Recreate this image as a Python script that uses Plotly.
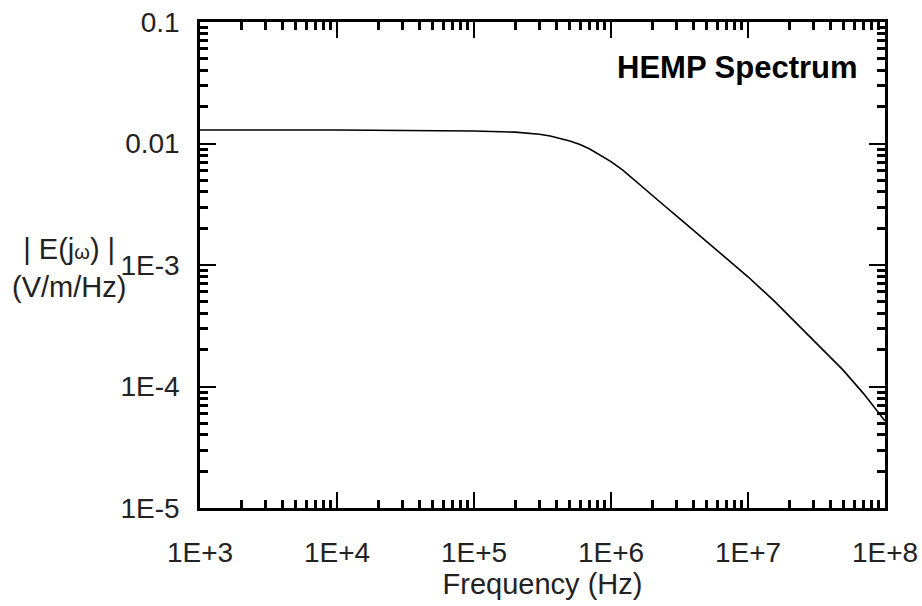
import plotly.graph_objs as go

# HEMP spectrum, values
freq_hz = [1e3, 1e4, 1e5, 2.0e5, 3.0e5, 3.6e5, 5.0e5, 5.94e5, 7.0e5, 1.0e6, 1.22e6, 1.63e6,
           2.28e6, 3.3e6, 5.02e6, 1.0e7, 1.57e7, 2.03e7, 3.0e7, 4.93e7, 7.0e7, 1e8]
e_mag = [0.0129, 0.0129, 0.01268, 0.0124, 0.0119, 0.01153, 0.0105, 0.0098, 0.0090, 0.0071, 0.00605, 0.00455,
         0.00330, 0.00232, 0.00155, 0.00080, 0.00050, 0.000373, 0.00024, 0.000137, 0.000087, 0.000052]

x_major = [1e3, 1e4, 1e5, 1e6, 1e7, 1e8]
x_labels = ['1E+3', '1E+4', '1E+5', '1E+6', '1E+7', '1E+8']
y_major = [1e-5, 1e-4, 1e-3, 1e-2, 1e-1]
y_labels = ['1E-5', '1E-4', '1E-3', '0.01', '0.1']

x_minor = [k * 10 ** n for n in range(3, 8) for k in range(2, 10)]
y_minor = [k * 10.0 ** n for n in range(-5, -1) for k in range(2, 10)]

tick_font = dict(family='Liberation Sans, Arial, sans-serif', size=28, color='#222')
title_font = dict(family='Liberation Sans, Arial, sans-serif', size=29, color='#222')

trace = go.Scatter(x=freq_hz, y=e_mag, mode='lines', line=dict(color='black', width=1.6))

axis_common = dict(
    type='log', showgrid=False, zeroline=False, automargin=False,
    showline=True, linecolor='black', linewidth=2.5, mirror='allticks',
    ticks='inside', ticklen=16, tickwidth=2, tickcolor='black',
    tickmode='array', tickfont=tick_font, ticklabeloverflow='allow',
)

layout = go.Layout(
    width=922, height=606,
    paper_bgcolor='white', plot_bgcolor='white',
    margin=dict(l=200, r=37, t=22, b=98),
    showlegend=False,
    xaxis=dict(
        axis_common,
        range=[3, 8], tickvals=x_major, ticktext=x_labels, ticklabelstandoff=18,
        minor=dict(ticks='inside', ticklen=8, tickwidth=2.5, tickcolor='black', tickvals=x_minor),
        title=dict(text='Frequency (Hz)', font=title_font, standoff=6),
    ),
    yaxis=dict(
        axis_common,
        range=[-5, -1], tickvals=y_major, ticktext=y_labels, ticklabelstandoff=12,
        minor=dict(ticks='inside', ticklen=8, tickwidth=2.5, tickcolor='black', tickvals=y_minor),
    ),
    annotations=[
        dict(text="| E(j<span style='font-size:20px'>ω</span>) |<br>(V/m/Hz)",
             xref='paper', yref='paper', x=-0.105, y=0.494, xanchor='right', yanchor='middle',
             showarrow=False, align='center', font=title_font),
        dict(text='<b>HEMP Spectrum</b>', xref='paper', yref='paper', x=0.963, y=0.907,
             xanchor='right', yanchor='middle', showarrow=False,
             font=dict(family='Liberation Sans, Arial, sans-serif', size=31, color='black')),
    ],
)

fig = go.Figure(data=[trace], layout=layout)
# drop the default 8px page margin so the figure fills the window exactly
fig.write_html("out.html", config={'displayModeBar': False},
               post_script="document.body.style.margin='0'; document.body.style.overflow='hidden';")
